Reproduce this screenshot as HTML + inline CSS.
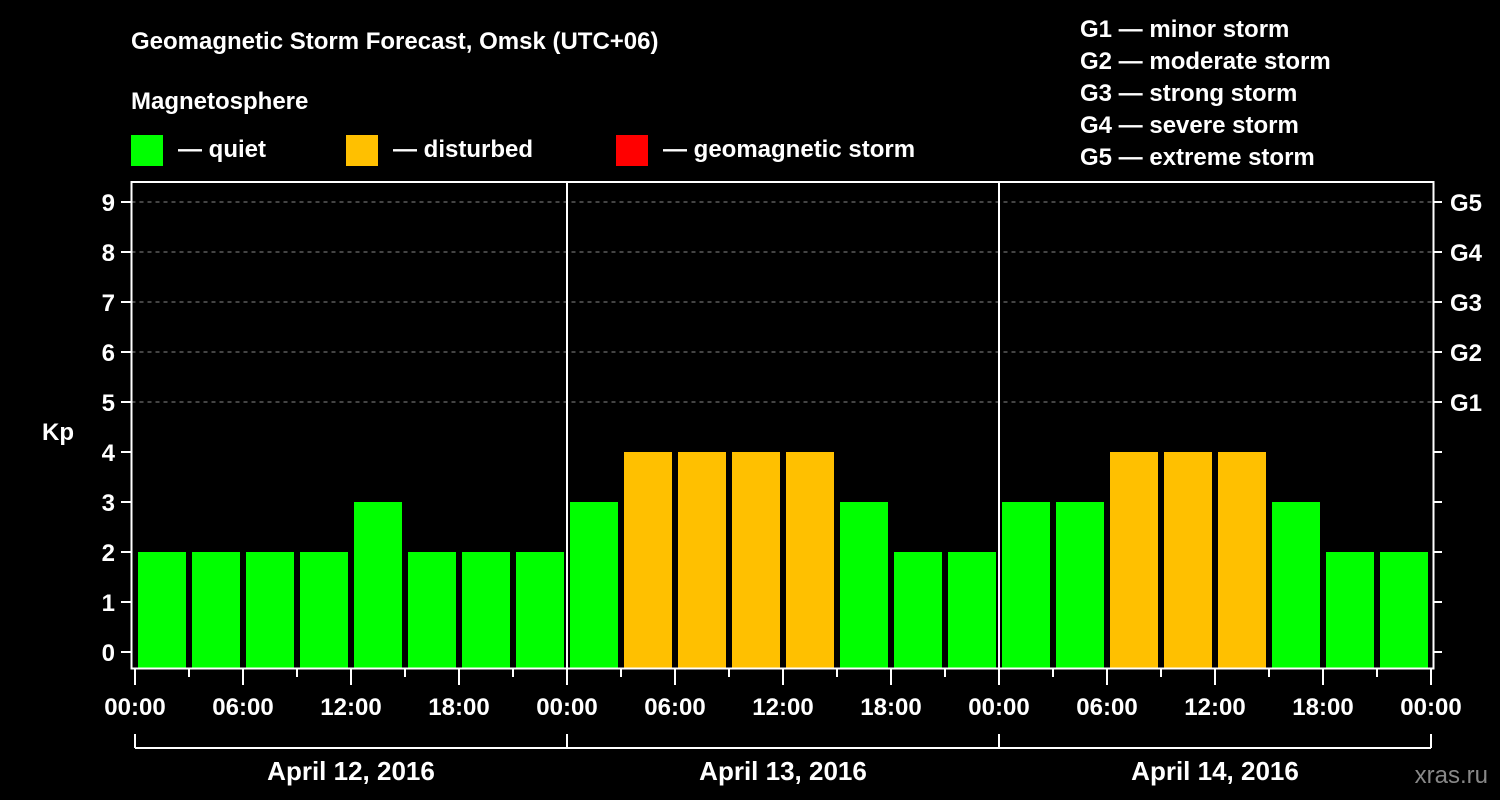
<!DOCTYPE html>
<html><head><meta charset="utf-8"><style>
body{margin:0;background:#000;width:1500px;height:800px;overflow:hidden}
svg{display:block;font-family:"Liberation Sans",sans-serif;font-weight:bold}
</style></head><body>
<svg id="c" width="1500" height="800">
<text x="131" y="49" fill="#fff" font-size="24">Geomagnetic Storm Forecast, Omsk (UTC+06)</text>
<text x="131" y="109" fill="#fff" font-size="24">Magnetosphere</text>
<g><rect x="131" y="135" width="32" height="31" fill="#00ff00"/><text x="178" y="157" fill="#fff" font-size="24">— quiet</text></g>
<g><rect x="346" y="135" width="32" height="31" fill="#ffc000"/><text x="393" y="157" fill="#fff" font-size="24">— disturbed</text></g>
<g><rect x="616" y="135" width="32" height="31" fill="#ff0000"/><text x="663" y="157" fill="#fff" font-size="24">— geomagnetic storm</text></g>
<g fill="#fff" font-size="24">
<text x="1080" y="37">G1 — minor storm</text>
<text x="1080" y="69">G2 — moderate storm</text>
<text x="1080" y="101">G3 — strong storm</text>
<text x="1080" y="133">G4 — severe storm</text>
<text x="1080" y="165">G5 — extreme storm</text>
</g>
<text x="42" y="440" fill="#fff" font-size="24">Kp</text>
<text x="1488" y="783" fill="#888" font-size="24" text-anchor="end" font-weight="normal">xras.ru</text>
<g id="plot"></g>
</svg>
<script>
const days=["April 12, 2016","April 13, 2016","April 14, 2016"];
const kp=[2,2,2,2,3,2,2,2, 3,4,4,4,4,3,2,2, 3,3,4,4,4,3,2,2];
const yTicks=[0,1,2,3,4,5,6,7,8,9];
const gLabels=["G1","G2","G3","G4","G5"];
const hourLabels=["00:00","06:00","12:00","18:00"];
const NS="http://www.w3.org/2000/svg";
const g=document.getElementById('plot');
const X0=135,SLOT=54,L=131.5,R=1433.5,T=182,B=668.5;
const x=i=>X0+i*SLOT;
const y=v=>652-v*50;
function mk(t,a,p){const e=document.createElementNS(NS,t);for(const k in a)e.setAttribute(k,a[k]);(p||g).appendChild(e);return e;}
kp.forEach((v,i)=>{
 const c=v>=5?'#ff0000':v>=4?'#ffc000':'#00ff00';
 const r=mk('rect',{x:x(i)+3,y:y(v),width:SLOT-6,height:B-0.5-y(v),fill:c});
 
 
});
[5,6,7,8,9].forEach(v=>{
 const l=mk('line',{x1:L,x2:R,y1:y(v),y2:y(v),stroke:'#888','stroke-dasharray':'4,4','stroke-width':1});
 
 
});
yTicks.forEach(v=>{
 mk('line',{x1:121,x2:L,y1:y(v),y2:y(v),stroke:'#fff','stroke-width':2});
 mk('line',{x1:R,x2:1442,y1:y(v),y2:y(v),stroke:'#fff','stroke-width':2});
 const t=mk('text',{x:115,y:y(v)+9,fill:'#fff','font-size':24,'text-anchor':'end'});
 t.textContent=v;
 
 
});
gLabels.forEach((s,i)=>{
 const t=mk('text',{x:1450,y:y(5+i)+9,fill:'#fff','font-size':24});
 t.textContent=s;
 
 
});
for(let d=1;d<days.length;d++) mk('line',{x1:x(d*8),x2:x(d*8),y1:T,y2:B,stroke:'#fff','stroke-width':2});
const ax=mk('rect',{x:L,y:T,width:R-L,height:B-T,fill:'none',stroke:'#fff','stroke-width':2});


for(let i=0;i<=kp.length;i++){
 const major=i%2==0;
 mk('line',{x1:x(i),x2:x(i),y1:B,y2:major?685:677,stroke:'#fff','stroke-width':2});
 if(major){
  const t=mk('text',{x:x(i),y:715,fill:'#fff','font-size':24,'text-anchor':'middle'});
  t.textContent=hourLabels[(i/2)%4];
  
  
 }
}
mk('line',{x1:x(0),x2:x(days.length*8),y1:748,y2:748,stroke:'#fff','stroke-width':2});
for(let d=0;d<=days.length;d++) mk('line',{x1:x(d*8),x2:x(d*8),y1:734,y2:748,stroke:'#fff','stroke-width':2});
days.forEach((s,d)=>{
 const t=mk('text',{x:x(d*8+4),y:780,fill:'#fff','font-size':26,'text-anchor':'middle'});
 t.textContent=s;
 
 
});
</script>
</body></html>
